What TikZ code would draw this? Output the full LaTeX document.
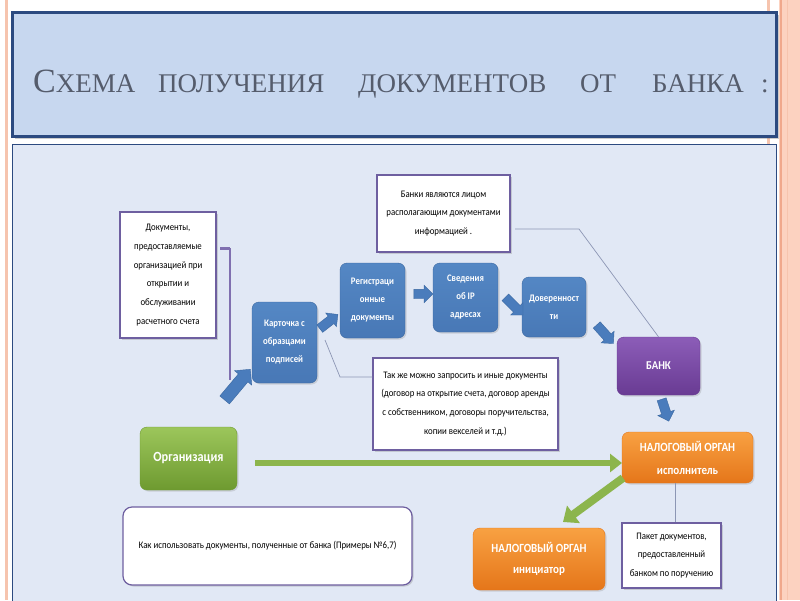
\documentclass[tikz,border=0pt]{standalone}
\usepackage{fontspec}
\newfontfamily\cf[FakeStretch=0.88]{Carlito}
\newfontfamily\tf{Liberation Serif}
\usetikzlibrary{shapes.arrows,shadows,arrows.meta}
\definecolor{peach}{HTML}{F6C4AE}
\definecolor{peachband}{HTML}{FCD2C0}
\definecolor{peachline}{HTML}{F0A88C}
\definecolor{navy}{HTML}{2C4A80}
\definecolor{titlefill}{HTML}{C7D7EF}
\definecolor{contentfill}{HTML}{E1E8F5}
\definecolor{titletext}{HTML}{555C6C}
\definecolor{callborder}{HTML}{6E5FA0}
\definecolor{cline}{HTML}{8C96B4}
\definecolor{bracket}{HTML}{8070B0}
\definecolor{blueTop}{HTML}{5487C4}
\definecolor{blueBot}{HTML}{4878B6}
\definecolor{blueBorder}{HTML}{3A67A0}
\definecolor{arrowBlue}{HTML}{4A7CBC}
\definecolor{purpTop}{HTML}{8C5DB8}
\definecolor{purpBot}{HTML}{693B93}
\definecolor{orTop}{HTML}{F8A142}
\definecolor{orBot}{HTML}{E5761A}
\definecolor{grTop}{HTML}{9CC65B}
\definecolor{grBot}{HTML}{6E9A30}
\definecolor{garrow}{HTML}{8CB54C}
\begin{document}
\begin{tikzpicture}[x=1pt,y=-1pt,
  callout/.style={draw=callborder, line width=1.2pt, fill=white,
    drop shadow={opacity=0.3, shadow xshift=1.5pt, shadow yshift=-1.5pt},
    align=center, inner sep=2pt, font=\cf\fontsize{10}{18.8}\selectfont},
  rbox/.style={rounded corners=7pt, text=white, align=center, inner sep=2pt,
    drop shadow={opacity=0.25, shadow xshift=1.5pt, shadow yshift=-1.5pt}},
  bluebox/.style={rbox, draw=blueBorder, top color=blueTop, bottom color=blueBot,
    font=\cf\bfseries\fontsize{10}{18}\selectfont},
  barrow/.style={single arrow, draw=blueBorder, fill=arrowBlue, inner xsep=0pt,
    inner ysep=4.5pt, minimum width=0pt, single arrow head extend=4pt},
  garrowstyle/.style={draw=garrow, line width=6pt, -{Triangle[length=12pt,width=18pt]}},
  connector/.style={draw=cline, line width=0.7pt},
  tword/.style={anchor=base west, inner sep=0pt, text=titletext}
]
\useasboundingbox (0,0) rectangle (800,600);
% page decorations
\fill[white] (0,0) rectangle (800,600);
\draw[peach, line width=3pt] (6.5,0) -- (6.5,600);
\fill[peachband] (779,0) rectangle (800,600);
\draw[peachline, line width=1.2pt] (781,0) -- (781,600);
\draw[peach, line width=1pt] (787,0) -- (787,600);
\draw[peach, line width=3pt] (768,0) -- (768,150);
% title box
\node[draw=navy, line width=2.5pt, fill=titlefill, minimum width=764pt, minimum height=124pt,
  drop shadow={opacity=0.4, shadow xshift=2pt, shadow yshift=-2pt}] (tbox) at (394.5,74.5) {};
\node[tword] (t1) at (33,92) {\tf\fontsize{34}{34}\selectfont С\fontsize{27}{27}\selectfont ХЕМА};
\node[tword] (t2) at (158,92) {\tf\fontsize{27}{27}\selectfont ПОЛУЧЕНИЯ};
\node[tword] (t3) at (358,92) {\tf\fontsize{27}{27}\selectfont ДОКУМЕНТОВ};
\node[tword] (t4) at (580,92) {\tf\fontsize{27}{27}\selectfont ОТ};
\node[tword] (t5) at (652,92) {\tf\fontsize{27}{27}\selectfont БАНКА};
\node[tword] (t6) at (761,92) {\tf\fontsize{27}{27}\selectfont :};
% content box
\draw[navy, line width=0.8pt, fill=contentfill] (12,144) rectangle (776,612);
% callouts
\node[callout, minimum width=96pt, minimum height=126pt] (doc) at (168,275)
  {Документы,\\предоставляемые\\организацией при\\открытии и\\обслуживании\\расчетного счета};
\node[callout, minimum width=133pt, minimum height=77pt] (bcall) at (443.5,213.5)
  {Банки являются лицом\\располагающим документами\\информацией .};
\node[callout, minimum width=185pt, minimum height=92pt] (tcall) at (465.5,404)
  {Так же можно запросить и иные документы\\(договор на открытие счета, договор аренды\\с собственником, договоры поручительства,\\копии векселей и т.д.)};
\node[callout, minimum width=99pt, minimum height=65pt] (paket) at (671.5,555.5)
  {Пакет документов,\\предоставленный\\банком по поручению};
\node[callout, rounded corners=9pt, minimum width=289pt, minimum height=78pt] (kak) at (267.5,546)
  {Как использовать документы, полученные от банка (Примеры №6,7)};
% blue boxes
\node[bluebox, minimum width=65pt, minimum height=81pt] (kart) at (284.5,342.5) {Карточка с\\образцами\\подписей};
\node[bluebox, minimum width=65pt, minimum height=75pt] (reg) at (372.5,300.5) {Регистраци\\онные\\документы};
\node[bluebox, minimum width=65pt, minimum height=69pt] (sved) at (465.5,297.5) {Сведения\\об IP\\адресах};
\node[bluebox, minimum width=64pt, minimum height=60pt] (dov) at (554,307) {Доверенност\\ти};
% coloured boxes
\node[rbox, draw=purpBot, top color=purpTop, bottom color=purpBot, minimum width=83pt, minimum height=58pt,
  font=\cf\bfseries\fontsize{12}{14}\selectfont] (bank) at (658.5,366) {БАНК};
\node[rbox, draw=orBot, top color=orTop, bottom color=orBot, minimum width=131pt, minimum height=51pt,
  font=\cf\bfseries\fontsize{12.5}{23}\selectfont] (nal1) at (687.5,457.5) {НАЛОГОВЫЙ ОРГАН\\исполнитель};
\node[rbox, draw=orBot, top color=orTop, bottom color=orBot, minimum width=132pt, minimum height=62pt,
  font=\cf\bfseries\fontsize{12.5}{21}\selectfont] (nal2) at (539,559) {НАЛОГОВЫЙ ОРГАН\\инициатор};
\node[rbox, draw=grBot, top color=grTop, bottom color=grBot, minimum width=97pt, minimum height=63pt,
  font=\cf\bfseries\fontsize{14}{16}\selectfont] (org) at (188.5,458.5) {Организация};
% connectors
\coordinate (br1) at (220,248);
\coordinate (br2) at (230,248);
\coordinate (br3) at (230,380);
\draw[bracket, line width=3pt] (br1) -- (br2);
\draw[bracket, line width=1.2pt] (br2) -- (br3);
\coordinate (bc0) at (515,229);
\coordinate (bc1) at (579,229);
\draw[connector] (bc0) -- (bc1) -- (bank.north);
\coordinate (tc0) at (325,340);
\coordinate (tc1) at (340,377);
\draw[connector] (tc0) -- (tc1) -- (tcall.west |- tc1);
\coordinate (pk0) at (675,483);
\draw[connector] (pk0) -- (paket.north -| pk0);
% blue block arrows
\node[barrow, inner ysep=6pt, single arrow head extend=5pt, minimum height=40pt, rotate=50] (a1) at (235.5,387) {};
\node[barrow, minimum height=23pt, rotate=38] (a2) at (327,323) {};
\node[barrow, minimum height=19pt] (a3) at (421,294) {};
\node[barrow, minimum height=25pt, rotate=-45] (a4) at (512.5,304.5) {};
\node[barrow, minimum height=25pt, rotate=-48] (a5) at (603.5,332.5) {};
\node[barrow, minimum height=23pt, rotate=-72] (a6) at (664.5,408) {};
% green arrows
\coordinate (g1) at (255,463);
\coordinate (g2) at (622,463);
\draw[garrowstyle] (g1) -- (g2);
\coordinate (g3) at (623,478);
\coordinate (g4) at (563,522);
\draw[garrowstyle, line width=8pt, -{Triangle[length=13pt,width=21pt]}] (g3) -- (g4);
\end{tikzpicture}
\end{document}
